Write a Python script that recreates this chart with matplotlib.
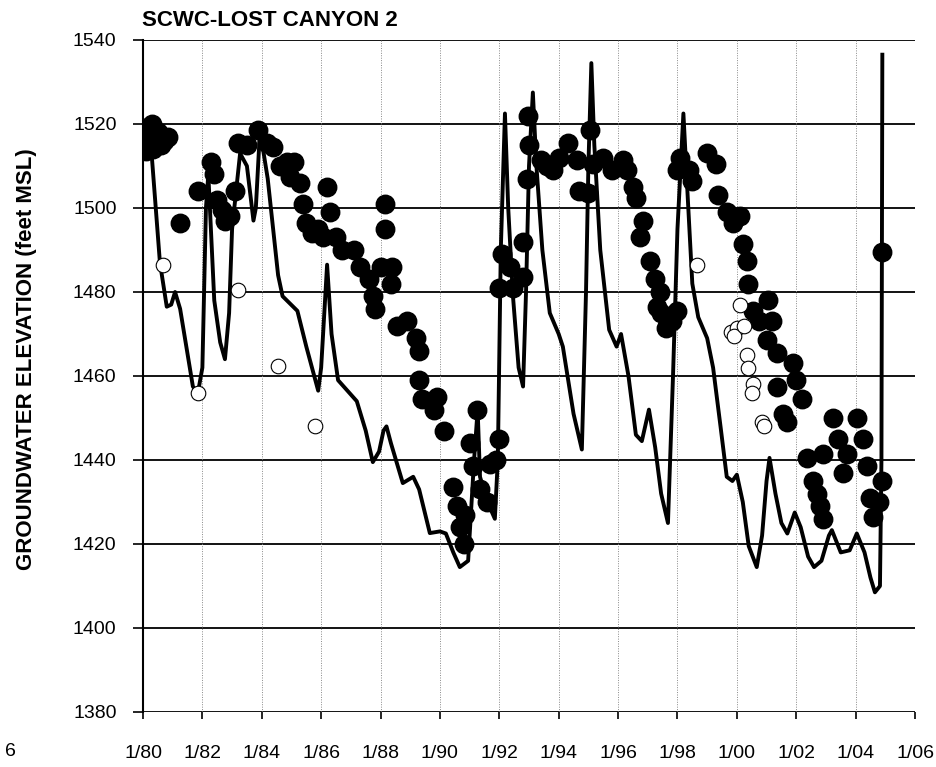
import matplotlib.pyplot as plt

plt.rcParams['font.family'] = ['Liberation Sans', 'DejaVu Sans']

# simulated groundwater elevation (model line)
model_year = [1980.05, 1980.3, 1980.57, 1980.8, 1980.95, 1981.08, 1981.25, 1981.68, 1981.85,
              1982.0, 1982.12, 1982.2, 1982.4, 1982.6, 1982.76, 1982.9, 1983.0, 1983.27,
              1983.5, 1983.72, 1983.8, 1983.94, 1984.2, 1984.55, 1984.7, 1985.2, 1985.5,
              1985.9, 1986.0, 1986.2, 1986.35, 1986.57, 1987.2, 1987.5, 1987.74, 1987.95,
              1988.1, 1988.2, 1988.35, 1988.75, 1989.1, 1989.3, 1989.66, 1990.0, 1990.2,
              1990.45, 1990.67, 1990.95, 1991.15, 1991.27, 1991.35, 1991.6, 1991.85, 1991.95,
              1992.05, 1992.19, 1992.3, 1992.46, 1992.65, 1992.8, 1992.9, 1993.0, 1993.13,
              1993.25, 1993.45, 1993.7, 1994.0, 1994.14, 1994.5, 1994.78, 1994.92, 1995.0,
              1995.1, 1995.2, 1995.4, 1995.7, 1995.95, 1996.1, 1996.35, 1996.6, 1996.8,
              1997.04, 1997.25, 1997.45, 1997.68, 1997.85, 1998.0, 1998.2, 1998.35, 1998.5,
              1998.7, 1999.0, 1999.2, 1999.45, 1999.66, 1999.85, 2000.0, 2000.2, 2000.4,
              2000.67, 2000.85, 2001.0, 2001.1, 2001.3, 2001.5, 2001.7, 2001.95, 2002.15,
              2002.4, 2002.6, 2002.85, 2003.1, 2003.2, 2003.5, 2003.8, 2004.04, 2004.3,
              2004.5, 2004.65, 2004.82, 2004.87, 2004.9]
model_elev = [1516, 1512, 1487, 1476.5, 1477, 1480, 1476, 1457.5, 1456,
              1462, 1500, 1508, 1478, 1468, 1464, 1475, 1495, 1513,
              1510, 1497, 1500, 1518.5, 1507, 1484, 1479, 1475.5, 1467,
              1456.5, 1462, 1486.5, 1470, 1459, 1454, 1447, 1439.5, 1442,
              1447, 1448, 1444, 1434.5, 1436, 1433, 1422.6, 1423, 1422.5,
              1418, 1414.5, 1416, 1440, 1452, 1436, 1430, 1426, 1440,
              1490, 1522.5, 1500, 1479, 1462, 1457.5, 1480, 1510, 1527.5,
              1510, 1490, 1475, 1470, 1467, 1451, 1442.5, 1480, 1510,
              1534.5, 1515, 1490, 1471, 1467, 1470, 1460, 1446, 1444.5,
              1452, 1443, 1432, 1425, 1460, 1495, 1522.5, 1502, 1482,
              1474, 1469, 1462, 1448, 1436, 1435, 1436.5, 1430, 1419.5,
              1414.5, 1422, 1435, 1440.5, 1432, 1425, 1422.5, 1427.5, 1424,
              1417, 1414.5, 1416, 1422, 1423.3, 1418, 1418.5, 1422.5, 1418,
              1412, 1408.5, 1410, 1440, 1536.5]

# measured water levels (filled)
obs_year = [1980.0, 1980.05, 1980.1, 1980.2, 1980.3, 1980.35, 1980.5, 1980.6, 1980.7, 1980.85,
            1981.25, 1981.85, 1982.3, 1982.4, 1982.5, 1982.65, 1982.76, 1982.93, 1983.1,
            1983.2, 1983.5, 1983.87, 1984.17, 1984.38, 1984.6, 1984.85, 1984.95, 1985.1,
            1985.3, 1985.4, 1985.5, 1985.7, 1985.9, 1986.07, 1986.2, 1986.3, 1986.5, 1986.7,
            1987.1, 1987.3, 1987.6, 1987.75, 1987.8, 1988.0, 1988.15, 1988.15, 1988.35,
            1988.4, 1988.55, 1988.9, 1989.2, 1989.3, 1989.3, 1989.4, 1989.9, 1989.8, 1990.15,
            1990.45, 1990.57, 1990.67, 1990.8, 1990.85, 1991.0, 1991.1, 1991.25, 1991.35,
            1991.6, 1991.7, 1991.9, 1992.0, 1992.0, 1992.1, 1992.35, 1992.45, 1992.8, 1992.8,
            1992.93, 1993.0, 1992.95, 1993.4, 1993.6, 1993.8, 1994.0, 1994.3, 1994.6, 1994.7,
            1995.0, 1995.05, 1995.15, 1995.5, 1995.8, 1996.15, 1996.3, 1996.5, 1996.6,
            1996.85, 1996.73, 1997.07, 1997.24, 1997.3, 1997.4, 1997.45, 1997.6, 1997.8,
            1998.0, 1998.0, 1998.08, 1998.4, 1998.5, 1999.0, 1999.3, 1999.36, 1999.66,
            1999.87, 2000.1, 2000.2, 2000.33, 2000.37, 2000.55, 2000.75, 2001.0, 2001.05,
            2001.2, 2001.35, 2001.35, 2001.55, 2001.7, 2001.9, 2002.0, 2002.2, 2002.35,
            2002.55, 2002.7, 2002.8, 2002.9, 2002.9, 2003.23, 2003.4, 2003.57, 2003.7,
            2004.04, 2004.25, 2004.4, 2004.5, 2004.6, 2004.8, 2004.9, 2004.9]
obs_elev = [1516, 1519, 1513.5, 1517, 1520, 1514, 1518, 1515, 1516, 1517,
            1496.5, 1504, 1511, 1508, 1502, 1499.5, 1497, 1498, 1504,
            1515.5, 1515, 1518.5, 1515.5, 1514.5, 1510, 1511, 1507.5, 1511,
            1506, 1501, 1496.5, 1494, 1495, 1493, 1505, 1499, 1493, 1490,
            1490, 1486, 1483, 1479, 1476, 1486, 1501, 1495, 1482,
            1486, 1472, 1473, 1469, 1466, 1459, 1454.5, 1455, 1452, 1447,
            1433.5, 1429, 1424, 1420, 1427, 1444, 1438.5, 1452, 1433,
            1430, 1439, 1440, 1445, 1481, 1489, 1486, 1481, 1483.5, 1492,
            1507, 1515, 1522, 1511.5, 1510, 1509, 1512, 1515.5, 1511.5, 1504,
            1503.5, 1518.5, 1510.5, 1512, 1509, 1511.5, 1509, 1505, 1502.5,
            1497, 1493, 1487.5, 1483, 1476.5, 1480, 1475, 1471.5, 1473,
            1475.5, 1509, 1512, 1509, 1506.5, 1513, 1510.5, 1503, 1499,
            1496.5, 1498, 1491.5, 1487.5, 1482, 1475.5, 1473, 1468.5, 1478,
            1473, 1465.5, 1457.5, 1451, 1449, 1463, 1459, 1454.5, 1440.5,
            1435, 1432, 1429, 1426, 1441.5, 1450, 1445, 1437, 1441.5,
            1450, 1445, 1438.5, 1431, 1426.5, 1430, 1435, 1489.5]

# measured water levels (open)
open_year = [1980.67, 1981.85, 1983.2, 1984.55, 1985.8, 1998.65, 1999.8, 2000.0, 1999.9,
             2000.1, 2000.25, 2000.33, 2000.37, 2000.55, 2000.5, 2000.85, 2000.9]
open_elev = [1486.5, 1456, 1480.5, 1462.5, 1448, 1486.5, 1470.5, 1471.5, 1469.5,
             1477, 1472, 1465, 1462, 1458, 1456, 1449, 1448]

tick_years = list(range(1980, 2007, 2))
tick_labels = ["1/%02d" % (y % 100) for y in tick_years]

fig = plt.figure(figsize=(9.36, 7.67), dpi=100)
ax = fig.add_axes([143 / 936, 55 / 767, 772 / 936, 672 / 767])

ax.plot(model_year, model_elev, color='black', lw=2.8, zorder=3, solid_joinstyle='round')
ax.plot(obs_year, obs_elev, 'o', color='black', ms=13.3, zorder=4, ls='none')
ax.plot(open_year, open_elev, 'o', mfc='white', mec='black', mew=0.8, ms=10.5,
        zorder=5, ls='none')

ax.set_xlim(1980, 2006)
ax.set_ylim(1380, 1540)
ax.set_xticks(tick_years)
ax.set_xticklabels(tick_labels)
ax.set_yticks(range(1380, 1541, 20))

for y in range(1380, 1541, 20):
    ax.axhline(y, color='black', lw=1.3, zorder=1)
for x in tick_years[1:]:
    ax.axvline(x, color='#888888', lw=0.7, ls=(0, (1, 1.5)), zorder=1)

for s in ['top', 'right', 'bottom']:
    ax.spines[s].set_visible(False)
ax.spines['left'].set_linewidth(1.5)

ax.tick_params(axis='x', direction='out', length=5, width=1.2, pad=19, labelsize=14)
ax.tick_params(axis='y', direction='out', length=7, width=1.2, pad=12, labelsize=14)

ax.set_ylabel("GROUNDWATER ELEVATION (feet MSL)", fontsize=16, fontweight='bold')
ax.yaxis.set_label_coords(-(143 - 37) / 772, (712 - 359) / 672)
fig.text(142 / 936, 1 - 20 / 767, "SCWC-LOST CANYON 2", fontsize=16, fontweight='bold',
         ha='left', va='center')
fig.text(5 / 936, 1 - 752 / 767, "6", fontsize=14, ha='left', va='center')

fig.savefig("out.png", dpi=100)
